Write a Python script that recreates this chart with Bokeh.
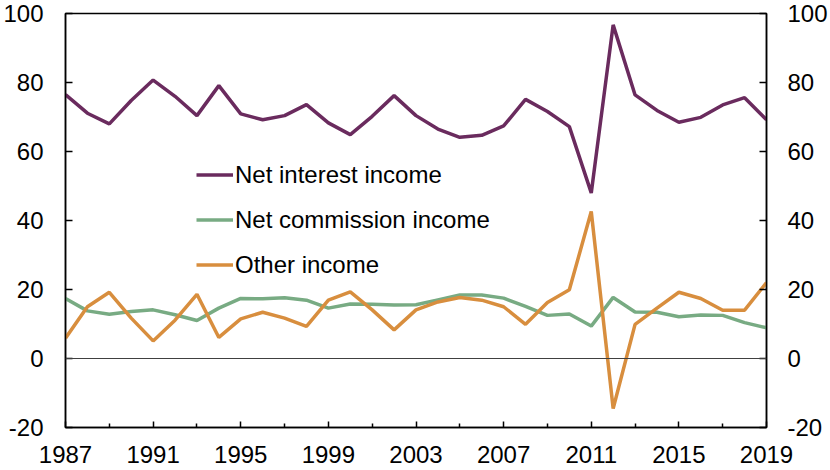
from bokeh.plotting import figure
from bokeh.models import Range1d, LinearAxis, FixedTicker, Span, Legend, LegendItem
from bokeh.embed import file_html
from bokeh.resources import INLINE

years = list(range(1987, 2020))
net_interest = [76.5, 71.1, 68.0, 74.8, 80.7, 76.0, 70.4, 79.1, 70.9, 69.2,
                70.4, 73.6, 68.3, 64.9, 70.2, 76.2, 70.4, 66.5, 64.1, 64.7,
                67.4, 75.1, 71.6, 67.2, 48.0, 96.7, 76.4, 71.9, 68.5, 69.9,
                73.5, 75.6, 69.2]
net_commission = [17.4, 13.8, 12.8, 13.6, 14.1, 12.7, 11.0, 14.6, 17.4, 17.3,
                  17.6, 16.9, 14.6, 15.8, 15.7, 15.5, 15.6, 17.0, 18.4, 18.4,
                  17.5, 15.1, 12.5, 12.9, 9.4, 17.7, 13.5, 13.4, 12.1, 12.6,
                  12.5, 10.4, 8.9]
other_income = [5.9, 15.0, 19.2, 11.7, 5.1, 11.1, 18.6, 6.1, 11.5, 13.4,
                11.7, 9.3, 16.9, 19.3, 14.1, 8.3, 14.1, 16.4, 17.7, 16.9,
                15.0, 9.9, 16.2, 19.9, 42.6, -14.5, 9.9, 14.6, 19.2, 17.4,
                14.0, 14.0, 22.0]
series_names = ["Net interest income", "Net commission income", "Other income"]
y_ticks = [-20, 0, 20, 40, 60, 80, 100]
y_tick_labels = {t: str(t) for t in y_ticks}
x_major = list(range(1987, 2020, 4))
x_minor = list(range(1989, 2020, 4))

FONT = "Liberation Sans"
FS = "24px"
colors = ["#6A2B5E", "#78AB83", "#D88E3E"]

p = figure(width=830, height=470, output_backend="svg", toolbar_location=None,
           x_range=Range1d(1987, 2019), y_range=Range1d(-20, 100),
           min_border_left=64, min_border_right=63, min_border_top=13,
           min_border_bottom=43, background_fill_color="white",
           border_fill_color="white")
p.xgrid.visible = False
p.ygrid.visible = False
p.outline_line_color = "black"
p.outline_line_width = 1.5

xa = p.xaxis[0]
xa.ticker = FixedTicker(ticks=x_major, minor_ticks=x_minor)
ya = p.yaxis[0]
ya.ticker = FixedTicker(ticks=y_ticks)
ra = LinearAxis(ticker=FixedTicker(ticks=y_ticks))
p.add_layout(ra, "right")

for ax in (xa, ya, ra):
    ax.axis_line_color = "black"
    ax.axis_line_width = 1.5
    ax.major_tick_line_color = "black"
    ax.major_tick_line_width = 1.5
    ax.major_tick_in = 7
    ax.major_tick_out = 0
    ax.minor_tick_line_color = None
    ax.major_label_text_font = FONT
    ax.major_label_text_font_size = FS
    ax.major_label_text_color = "black"
ya.major_label_overrides = y_tick_labels
ra.major_label_overrides = y_tick_labels
xa.major_tick_in = 6
xa.minor_tick_line_color = "black"
xa.minor_tick_line_width = 1.5
xa.minor_tick_in = 4
xa.minor_tick_out = 0
xa.major_label_standoff = 18
ya.major_label_standoff = 22
ra.major_label_standoff = 21

p.add_layout(Span(location=0, dimension="width", line_color="#404040", line_width=1.2))

r1 = p.line(years, net_interest, line_color=colors[0], line_width=3.5)
r2 = p.line(years, net_commission, line_color=colors[1], line_width=3.5)
r3 = p.line(years, other_income, line_color=colors[2], line_width=3.5)

legend = Legend(items=[LegendItem(label=series_names[0], renderers=[r1]),
                       LegendItem(label=series_names[1], renderers=[r2]),
                       LegendItem(label=series_names[2], renderers=[r3])],
                location=(131, 140), orientation="vertical",
                label_text_font=FONT, label_text_font_size=FS,
                label_text_color="black", glyph_width=37, glyph_height=45,
                label_height=45, label_standoff=2, spacing=0, padding=0,
                margin=0, border_line_color=None, background_fill_alpha=0)
p.add_layout(legend, "center")

open("out.html", "w").write(file_html(p, INLINE))
